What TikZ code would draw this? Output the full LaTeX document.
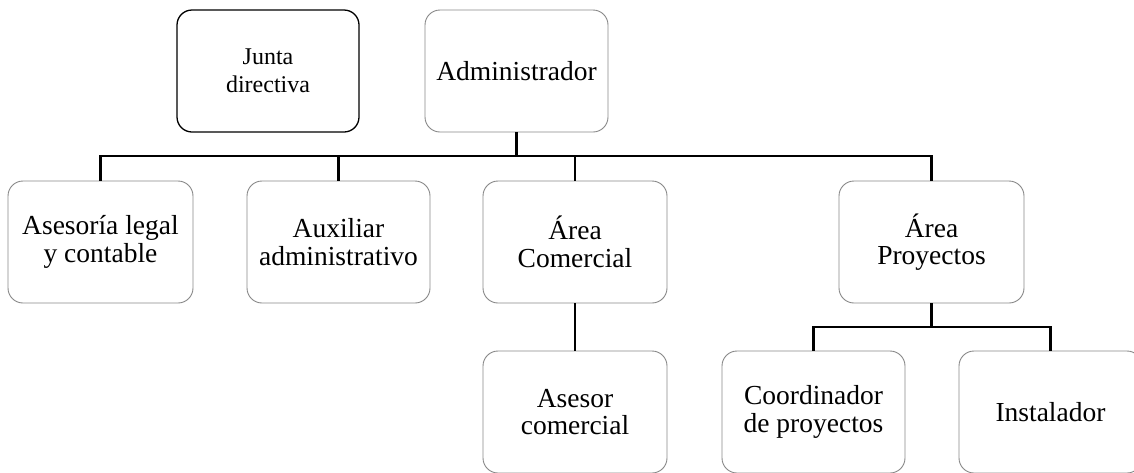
\documentclass[tikz,border=0pt]{standalone}
\usepackage{fontspec}
\setmainfont{Liberation Serif}
\definecolor{boxgray}{RGB}{135,135,135}
\tikzset{
  unit/.style={draw=boxgray, line width=0.9pt, rounded corners=15pt, rectangle,
    minimum width=184pt, minimum height=122pt, inner sep=0pt, align=center,
    font=\fontsize{27.5}{27.5}\selectfont},
  board/.style={unit, draw=black, line width=1.3pt, minimum width=182pt,
    font=\fontsize{24}{28}\selectfont},
  conn/.style={draw=black, line width=2.8pt}
}
\begin{document}
\begin{tikzpicture}[x=1pt, y=-1pt]
\useasboundingbox (0,0) rectangle (1134,472);
\clip (0,0) rectangle (1134,472);
\node[board] (junta) at (268,71) {Junta\\directiva};
\node[unit, minimum width=183pt] (admin) at (516.5,71) {Administrador};
\node[unit, minimum width=185pt] (ases) at (100.5,242) {Asesoría legal\\y contable};
\node[unit, minimum width=183pt] (aux) at (338.5,242) {Auxiliar\\administrativo};
\node[unit] (com) at (575,242) {Área\\Comercial};
\node[unit, minimum width=185pt] (proy) at (931.5,242) {Área\\Proyectos};
\node[unit] (asesor) at (575,412) {Asesor\\comercial};
\node[unit, minimum width=183pt] (coord) at (813.5,412) {Coordinador\\de proyectos};
\node[unit, minimum width=183pt] (inst) at (1050.5,412) {Instalador};
\coordinate (bus) at (0,156);
\coordinate (sub) at (0,327);
\draw[conn] (admin.south) -- (admin.south |- bus);
\draw[conn] (ases.north) |- (proy.north |- bus) -- (proy.north);
\draw[conn] (aux.north) -- (aux.north |- bus);
\draw[conn] (com.north) -- (com.north |- bus);
\draw[conn] (com.south) -- (asesor.north);
\draw[conn] (proy.south) -- (proy.south |- sub);
\draw[conn] (coord.north) |- (inst.north |- sub) -- (inst.north);
\end{tikzpicture}
\end{document}
